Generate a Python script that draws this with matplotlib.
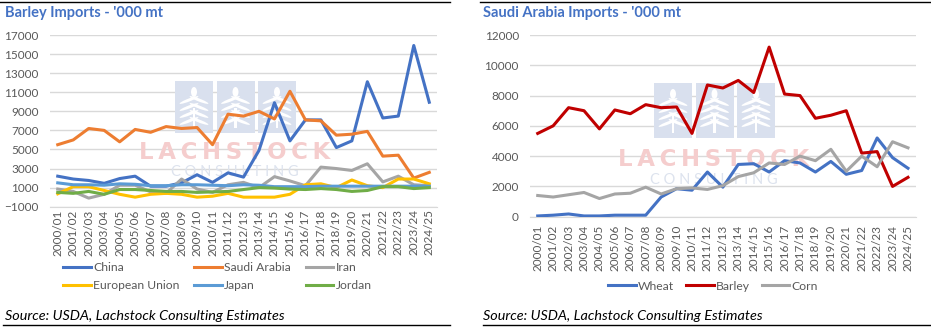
import numpy as np
import matplotlib.pyplot as plt
from matplotlib.patches import Rectangle, Ellipse
from matplotlib.lines import Line2D

plt.rcParams['font.family'] = ['Lato', 'DejaVu Sans']

# -----------------------------
# Datos
# -----------------------------
seasons = ["2000/01", "2001/02", "2002/03", "2003/04", "2004/05", "2005/06",
           "2006/07", "2007/08", "2008/09", "2009/10", "2010/11", "2011/12",
           "2012/13", "2013/14", "2014/15", "2015/16", "2016/17", "2017/18",
           "2018/19", "2019/20", "2020/21", "2021/22", "2022/23", "2023/24",
           "2024/25"]

# Barley imports by country ('000 mt)
china = [2200, 1900, 1750, 1450, 1950, 2200, 1150, 1150, 1500, 2350, 1550, 2550,
         2100, 4900, 9900, 5900, 8100, 8100, 5200, 5900, 12100, 8300, 8500, 15900, 9950]
saudi = [5500, 6000, 7200, 7000, 5800, 7100, 6800, 7400, 7200, 7300, 5500, 8700,
         8500, 9000, 8200, 11100, 8100, 8000, 6500, 6600, 6900, 4300, 4400, 2000, 2600]
iran = [850, 600, -100, 300, 1250, 1250, 550, 400, 1900, 850, 500, 1300,
        1550, 1000, 2150, 1700, 1200, 3150, 3000, 2800, 3500, 1600, 2200, 1300, 1200]
eu = [350, 1100, 1100, 700, 300, 0, 300, 400, 300, 0, 100, 400,
      0, 0, 0, 300, 1300, 1400, 1000, 1800, 1200, 1000, 1900, 1900, 1400]
japan = [1500, 1300, 1300, 1250, 1400, 1350, 1200, 1200, 1300, 1300, 1250, 1200,
         1300, 1250, 1100, 1100, 1100, 1150, 1150, 1150, 1150, 1150, 1150, 1150, 1150]
jordan = [500, 400, 600, 300, 800, 800, 700, 600, 600, 500, 550, 600,
          800, 1000, 950, 850, 800, 900, 800, 600, 700, 1100, 1100, 900, 1000]

# Saudi Arabia imports by grain ('000 mt)
wheat = [50, 100, 180, 50, 50, 100, 100, 100, 1300, 1850, 1750, 2950,
         1950, 3450, 3500, 2950, 3700, 3550, 2950, 3650, 2800, 3050, 5200, 3900, 3200]
barley = [5500, 6000, 7200, 7000, 5800, 7050, 6800, 7400, 7200, 7250, 5500, 8700,
          8500, 9000, 8200, 11200, 8100, 8000, 6500, 6700, 7000, 4200, 4300, 2000, 2600]
corn = [1400, 1300, 1450, 1600, 1200, 1500, 1550, 1950, 1500, 1850, 1900, 1800,
        2050, 2650, 2900, 3550, 3450, 4000, 3700, 4450, 3000, 4000, 3300, 4950, 4550]

W, H = 931, 328
TITLE_C = "#4472C4"
GRID_C = "#D9D9D9"
TICK_C = "#595959"


def fx(px):
    return px / W


def fy(py):
    return 1 - py / H


def watermark(ax, x0, boxes_top, boxes_bot, text_y, cons_y, text_x):
    # logo de fondo (cajas con espigas + texto)
    tr = ax.figure.transFigure
    bw = 38
    for i in range(3):
        bx = x0 + i * 41.5
        ax.add_patch(Rectangle((fx(bx), fy(boxes_bot)), fx(bw), (boxes_bot - boxes_top) / H,
                               transform=tr, facecolor="#D9E0EE", edgecolor="none", zorder=1))
        cx = bx + bw / 2
        top = boxes_top + 7
        ax.add_patch(Rectangle((fx(cx - 1.2), fy(boxes_bot - 5)), fx(2.4), 20 / H,
                               transform=tr, facecolor="white", edgecolor="none", zorder=1.1))
        ax.add_patch(Ellipse((fx(cx), fy(top + 4)), fx(6), 10 / H, transform=tr,
                             facecolor="white", edgecolor="none", zorder=1.1))
        for k in range(4):
            yy = top + 12 + k * 7
            for s in (-1, 1):
                ax.add_patch(Ellipse((fx(cx + s * 5), fy(yy)), fx(6), 10 / H, angle=s * 40,
                                     transform=tr, facecolor="white", edgecolor="none", zorder=1.1))
    ax.text(fx(text_x), fy(text_y), "\u2009".join("LACHSTOCK"), transform=tr, ha="center",
            va="center", fontsize=16.5, fontweight="bold", family="DejaVu Sans",
            color="#F5CDCD", zorder=1.2)
    ax.text(fx(text_x), fy(cons_y), "C O N S U L T I N G", transform=tr, ha="center", va="center",
            fontsize=10.5, color="#DDE3EE", zorder=1.2)


def style_axes(ax, ymin, ymax, step, xpad):
    x = np.arange(len(seasons))
    ax.set_xlim(-0.5, len(seasons) - 0.5)
    ax.set_ylim(ymin, ymax)
    ax.set_yticks(np.arange(ymin, ymax + 1, step))
    ax.set_xticks(x)
    ax.set_xticklabels(seasons, rotation=90)
    ax.grid(axis="y", color=GRID_C, linewidth=1.0, zorder=0)
    ax.set_axisbelow(True)
    for s in ["top", "right", "left"]:
        ax.spines[s].set_visible(False)
    ax.spines["bottom"].set_color(GRID_C)
    ax.tick_params(axis="both", length=0, labelsize=8.5, colors=TICK_C)
    ax.tick_params(axis="y", pad=8)
    ax.tick_params(axis="x", pad=xpad)


fig = plt.figure(figsize=(W / 100, H / 100), dpi=100)

# -----------------------------
# Gráfico izquierdo: Barley
# -----------------------------
ax1 = fig.add_axes([fx(50), fy(206.7), fx(387), (206.7 - 35) / H])
style_axes(ax1, -1000, 17000, 2000, 2)
watermark(ax1, 175, 81, 133, 152.5, 171.5, 235)

x = np.arange(len(seasons))
lw = 2.2
l_china, = ax1.plot(x, china, color="#4472C4", lw=lw, label="China", zorder=3)
l_saudi, = ax1.plot(x, saudi, color="#ED7D31", lw=lw, label="Saudi Arabia", zorder=3)
l_iran, = ax1.plot(x, iran, color="#A5A5A5", lw=lw, label="Iran", zorder=3)
l_eu, = ax1.plot(x, eu, color="#FFC000", lw=lw, label="European Union", zorder=3)
l_japan, = ax1.plot(x, japan, color="#5B9BD5", lw=lw, label="Japan", zorder=3)
l_jordan, = ax1.plot(x, jordan, color="#70AD47", lw=lw, label="Jordan", zorder=3)

handles = [l_china, l_eu, l_saudi, l_japan, l_iran, l_jordan]
fig.legend(handles=handles, labels=[h.get_label() for h in handles], ncol=3,
           loc="center left", bbox_to_anchor=(fx(63), fy(276.5)), frameon=False,
           fontsize=8.7, handlelength=2.3, handletextpad=0.2, columnspacing=1.2,
           labelspacing=0.6, borderpad=0, borderaxespad=0, labelcolor=TICK_C)

fig.text(fx(5), fy(13), "Barley Imports - '000 mt", fontsize=10.5, fontweight="bold",
         color=TITLE_C, ha="left", va="center")
fig.text(fx(5), fy(316), "Source: USDA, Lachstock Consulting Estimates", fontsize=10.4,
         style="italic", color="black", ha="left", va="center")

# -----------------------------
# Gráfico derecho: Saudi Arabia
# -----------------------------
ax2 = fig.add_axes([fx(530), fy(216.7), fx(385.7), (216.7 - 35) / H])
style_axes(ax2, 0, 12000, 2000, 6)
watermark(ax2, 654, 83, 138, 159, 180, 714)

ax2.plot(x, wheat, color="#4472C4", lw=lw, label="Wheat", zorder=3)
ax2.plot(x, barley, color="#C00000", lw=lw, label="Barley", zorder=3)
ax2.plot(x, corn, color="#A5A5A5", lw=lw, label="Corn", zorder=3)
ax2.legend(ncol=3, loc="center left", bbox_to_anchor=(fx(608), fy(286)),
           bbox_transform=fig.transFigure, frameon=False, fontsize=8.7,
           handlelength=2.3, handletextpad=0.2, columnspacing=0.95,
           borderpad=0, borderaxespad=0, labelcolor=TICK_C)

fig.text(fx(483), fy(13), "Saudi Arabia Imports - '000 mt", fontsize=10.5, fontweight="bold",
         color=TITLE_C, ha="left", va="center")
fig.text(fx(483), fy(316), "Source: USDA, Lachstock Consulting Estimates", fontsize=10.4,
         style="italic", color="black", ha="left", va="center")

# Líneas de marco arriba / abajo
for xa, xb in [(0, 450), (480, 931)]:
    fig.add_artist(Line2D([fx(xa), fx(xb)], [fy(2), fy(2)], color="black", lw=1.0,
                          transform=fig.transFigure))
    fig.add_artist(Line2D([fx(xa + 3), fx(xb)], [fy(325), fy(325)], color="black", lw=1.0,
                          transform=fig.transFigure))

fig.savefig("out.png", dpi=100)
